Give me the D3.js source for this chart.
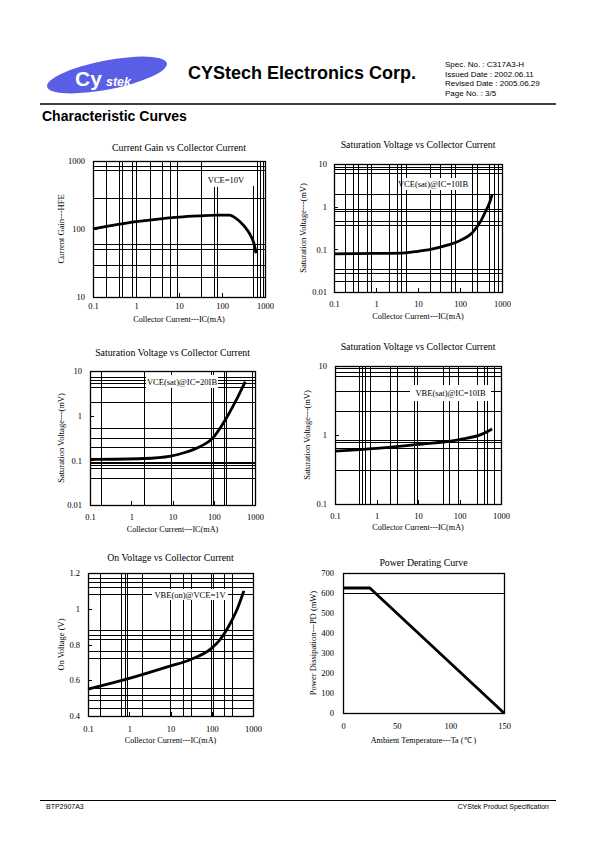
<!DOCTYPE html>
<html><head><meta charset="utf-8">
<script src="https://cdn.jsdelivr.net/npm/d3@7"></script>
<style>body{margin:0;background:#fff}svg{display:block}</style>
</head><body>
<svg id="s" width="595" height="842"></svg>
<script>
// ---------- data ----------
const logXTicks = [0.1, 1, 10, 100, 1000];
// Chart 1: Current gain
const ic1 = [0.1, 1, 10, 30, 80, 150, 200, 330, 450, 550, 620];
const hfe1 = [100, 128, 150, 156, 160, 160, 147, 110, 83, 62, 44];
const yTicks1 = [10, 100, 1000];
const xGrid1 = [0.2, 0.4, 0.48, 0.82, 0.98, 2.1, 4, 6.2, 9, 32, 650, 750, 900];
const xGridShort1 = [65, 78, 518];
const yGrid1 = [850, 740, 290, 60, 51, 30, 20];
// Chart 2: VCE(sat) @ IC=10IB
const ic2 = [0.1, 1, 5, 10, 20, 50, 100, 200, 300, 400, 500, 580];
const vce2 = [0.078, 0.08, 0.083, 0.09, 0.1, 0.125, 0.16, 0.25, 0.43, 0.75, 1.2, 1.9];
const yTicks2 = [0.01, 0.1, 1, 10];
const xGrid2 = [0.18, 0.29, 0.37, 0.61, 0.74, 2, 3.1, 3.9, 5.2, 19, 34, 62, 76, 190, 260, 490, 640, 800];
const yGrid2 = [8.6, 7.6, 6.3, 2, 0.9, 0.8, 0.46, 0.38, 0.035, 0.028, 0.018];
// Chart 3: VCE(sat) @ IC=20IB
const ic3 = [0.1, 2, 9, 20, 50, 90, 190, 330, 580];
const vce3 = [0.105, 0.11, 0.125, 0.15, 0.21, 0.3, 0.8, 2.0, 5.8];
const yTicks3 = [0.01, 0.1, 1, 10];
const xGrid3 = [0.19, 2, 9.2, 85, 95, 180, 195, 830];
const yGrid3 = [7.46, 6.3, 5.3, 4.46, 2.06, 0.52, 0.31, 0.2, 0.093, 0.085, 0.077, 0.066, 0.04];
// Chart 4: VBE(sat) @ IC=10IB
const ic4 = [0.1, 1, 10, 100, 350, 610];
const vbe4 = [0.585, 0.64, 0.73, 0.86, 1.03, 1.22];
const yTicks4 = [0.1, 1, 10];
const xGrid4 = [0.37, 0.44, 0.53, 0.7, 2.13, 3.1, 7.8, 9.5, 41, 57, 90, 263, 380, 460, 660];
const yGrid4 = [9.2, 8.2, 7.15, 4.33, 2.2, 0.855, 0.78, 0.65, 0.31];
// Chart 5: VBE(on) @ VCE=1V
const ic5 = [0.1, 1, 10, 30, 100, 150, 200, 300, 400, 600];
const vbe5 = [0.55, 0.61, 0.68, 0.715, 0.78, 0.82, 0.86, 0.93, 0.99, 1.10];
const yTicks5 = [0.4, 0.6, 0.8, 1, 1.2];
const xGrid5 = [0.2, 0.62, 0.79, 0.9, 2, 9.6, 20, 31, 95, 105, 200, 310];
const yGrid5 = [1.172, 1.148, 1.12, 1.084, 0.88, 0.855, 0.832, 0.765, 0.724, 0.555, 0.518, 0.488, 0.443];
// Chart 6: Power derating
const ta6 = [0, 25, 150];
const pd6 = [625, 625, 0];
const xTicks6 = [0, 50, 100, 150];
const yTicks6 = [0, 100, 200, 300, 400, 500, 600, 700];
const yGrid6 = [600];

// ---------- drawing ----------
const svg = d3.select('#s');
const SERIF = '"Liberation Serif","Times New Roman",serif';
const SANS = '"Liberation Sans",Arial,sans-serif';

function chart(c) {
  const g = svg.append('g');
  const x = (c.xlog ? d3.scaleLog() : d3.scaleLinear()).domain(c.xd).range([c.x0, c.x1]);
  const y = (c.ylog ? d3.scaleLog() : d3.scaleLinear()).domain(c.yd).range([c.y1, c.y0]);
  const ln = (sel) => sel.attr('stroke', '#000').attr('stroke-width', 1).attr('shape-rendering', 'crispEdges');
  g.selectAll('.vg').data(c.xg || []).join('line').call(ln)
    .attr('x1', d => Math.round(x(d)) + 0.5).attr('x2', d => Math.round(x(d)) + 0.5)
    .attr('y1', c.y0).attr('y2', c.y1);
  g.selectAll('.vs').data(c.xgs || []).join('line').call(ln)
    .attr('x1', d => Math.round(x(d)) + 0.5).attr('x2', d => Math.round(x(d)) + 0.5)
    .attr('y1', c.xgsTop ? y(c.xgsTop) : c.y0).attr('y2', c.y1);
  g.selectAll('.hg').data(c.yg || []).join('line').call(ln)
    .attr('y1', d => Math.round(y(d)) + 0.5).attr('y2', d => Math.round(y(d)) + 0.5)
    .attr('x1', c.x0).attr('x2', c.x1);
  if (c.box) {
    g.append('rect').attr('x', c.box[0]).attr('y', c.box[1]).attr('width', c.box[2]).attr('height', c.box[3]).attr('fill', '#fff');
    g.append('text').attr('x', c.box[0] + c.box[2] / 2).attr('y', c.box[1] + c.box[3] / 2 + 3)
      .attr('text-anchor', 'middle').attr('font-family', SERIF).attr('font-size', 8.5).text(c.label);
  }
  g.append('rect').attr('x', c.x0 + 0.5).attr('y', c.y0 + 0.5).attr('width', c.x1 - c.x0).attr('height', c.y1 - c.y0)
    .attr('fill', 'none').attr('stroke', '#000').attr('stroke-width', 1.3);
  const pts = c.xs.map((v, i) => [v, c.ys[i]]);
  g.append('path').datum(pts).attr('fill', 'none').attr('stroke', '#000').attr('stroke-width', 2.8)
    .attr('stroke-linejoin', 'round')
    .attr('d', d3.line().x(d => x(d[0])).y(d => y(d[1])).curve(c.curve || d3.curveMonotoneX));
  // axes: inward major ticks + labels
  const fmt = d => String(d);
  const tk = c.ticks ? -4 : 0;
  const ax = g.append('g').attr('transform', `translate(0,${c.y1})`)
    .call(d3.axisBottom(x).tickValues(c.xt).tickFormat(fmt).tickSize(tk).tickPadding(c.xpad));
  const ay = g.append('g').attr('transform', `translate(${c.x0},0)`)
    .call(d3.axisLeft(y).tickValues(c.yt).tickFormat(fmt).tickSize(tk).tickPadding(c.ypad));
  [ax, ay].forEach(a => {
    a.select('.domain').remove();
    a.selectAll('line').attr('stroke', '#000').attr('shape-rendering', 'crispEdges');
    a.selectAll('text').attr('font-family', SERIF).attr('font-size', 8.5).attr('fill', '#000');
  });
  g.append('text').attr('x', (c.x0 + c.x1) / 2 + (c.tdx || 0)).attr('y', c.ty).attr('text-anchor', 'middle')
    .attr('font-family', SERIF).attr('font-size', 9.8).text(c.title);
  g.append('text').attr('x', (c.x0 + c.x1) / 2).attr('y', c.xty).attr('text-anchor', 'middle')
    .attr('font-family', SERIF).attr('font-size', 8.2).text(c.xtitle);
  g.append('text').attr('transform', `translate(${c.ytx},${(c.y0 + c.y1) / 2}) rotate(-90)`).attr('text-anchor', 'middle')
    .attr('font-family', SERIF).attr('font-size', 8.5).text(c.ytitle);
}

const XT = 'Collector Current---IC(mA)';
chart({x0: 93, x1: 265, y0: 161, y1: 297, xlog: true, ylog: true, xd: [0.1, 1000], yd: [10, 1000], ticks: true,
  xs: ic1, ys: hfe1, xt: logXTicks, yt: yTicks1, xg: xGrid1, xgs: xGridShort1, xgsTop: 430, yg: yGrid1,
  box: [205, 173, 42, 14], label: 'VCE=10V', xpad: 6, ypad: 8,
  title: 'Current Gain vs Collector Current', ty: 151, xtitle: XT, xty: 321.5, ytitle: 'Current Gain---HFE', ytx: 64});
chart({x0: 334, x1: 502, y0: 164, y1: 292, xlog: true, ylog: true, xd: [0.1, 1000], yd: [0.01, 10], ticks: true,
  xs: ic2, ys: vce2, xt: logXTicks, yt: yTicks2, xg: xGrid2, yg: yGrid2,
  box: [402, 178, 62, 12], label: 'VCE(sat)@IC=10IB', xpad: 9, ypad: 7,
  title: 'Saturation Voltage vs Collector Current', ty: 148, xtitle: XT, xty: 319, ytitle: 'Saturation Voltage---(mV)', ytx: 306});
chart({x0: 90, x1: 255, y0: 371, y1: 505, xlog: true, ylog: true, xd: [0.1, 1000], yd: [0.01, 10], ticks: true,
  xs: ic3, ys: vce3, xt: logXTicks, yt: yTicks3, xg: xGrid3, yg: yGrid3,
  box: [146, 375, 72, 13], label: 'VCE(sat)@IC=20IB', xpad: 9, ypad: 8,
  title: 'Saturation Voltage vs Collector Current', ty: 356, xtitle: XT, xty: 532, ytitle: 'Saturation Voltage---(mV)', ytx: 64});
chart({x0: 335, x1: 501, y0: 366, y1: 504, xlog: true, ylog: true, xd: [0.1, 1000], yd: [0.1, 10], ticks: true,
  xs: ic4, ys: vbe4, xt: logXTicks, yt: yTicks4, xg: xGrid4, yg: yGrid4,
  box: [410, 385, 81, 16], label: 'VBE(sat)@IC=10IB', xpad: 9, ypad: 8,
  title: 'Saturation Voltage vs Collector Current', ty: 350, xtitle: XT, xty: 530, ytitle: 'Saturation Voltage---(mV)', ytx: 310});
chart({x0: 88, x1: 253, y0: 573, y1: 716, xlog: true, ylog: false, xd: [0.1, 1000], yd: [0.4, 1.2], ticks: true,
  xs: ic5, ys: vbe5, xt: logXTicks, yt: yTicks5, xg: xGrid5, yg: yGrid5,
  box: [152, 589, 76, 11], label: 'VBE(on)@VCE=1V', xpad: 10, ypad: 8,
  title: 'On Voltage vs Collector Current', ty: 561, xtitle: XT, xty: 743, ytitle: 'On Voltage (V)', ytx: 64});
chart({x0: 343, x1: 504, y0: 573, y1: 713, xlog: false, ylog: false, xd: [0, 150], yd: [0, 700],
  xs: ta6, ys: pd6, xt: xTicks6, yt: yTicks6, yg: yGrid6, curve: d3.curveLinear, xpad: 10, ypad: 9,
  title: 'Power Derating Curve', ty: 566, xtitle: 'Ambient Temperature---Ta (℃ )', xty: 743,
  ytitle: 'Power Dissipation---PD (mW)', ytx: 316});

// ---------- header / footer ----------
const lg = svg.append('g');
lg.append('ellipse').attr('cx', 107).attr('cy', 75).attr('rx', 61).attr('ry', 14.5)
  .attr('transform', 'rotate(-11,107,75)').attr('fill', '#5a5ee6');
lg.append('text').attr('x', 75).attr('y', 86).attr('font-family', SANS).attr('font-weight', 'bold')
  .attr('font-size', 21).attr('fill', '#fff').text('Cy');
lg.append('text').attr('x', 106).attr('y', 86).attr('font-family', SANS).attr('font-weight', 'bold')
  .attr('font-style', 'italic').attr('font-size', 12.5).attr('fill', '#fff').text('stek');
svg.append('text').attr('x', 188).attr('y', 79).attr('font-family', SANS).attr('font-weight', 'bold')
  .attr('font-size', 18).text('CYStech Electronics Corp.');
const spec = ['Spec. No. : C317A3-H', 'Issued Date : 2002.06.11', 'Revised Date : 2005.06.29', 'Page No. : 3/5'];
svg.selectAll('.spec').data(spec).join('text').attr('x', 445).attr('y', (d, i) => 67 + i * 9.5)
  .attr('font-family', SANS).attr('font-size', 8).text(d => d);
svg.append('line').attr('x1', 40).attr('x2', 556).attr('y1', 104).attr('y2', 104).attr('stroke', '#000').attr('stroke-width', 1.3);
svg.append('text').attr('x', 42).attr('y', 121).attr('font-family', SANS).attr('font-weight', 'bold')
  .attr('font-size', 14).text('Characteristic Curves');
svg.append('line').attr('x1', 40).attr('x2', 556).attr('y1', 800.5).attr('y2', 800.5).attr('stroke', '#000').attr('stroke-width', 1);
svg.append('text').attr('x', 46).attr('y', 809).attr('font-family', SANS).attr('font-size', 7).text('BTP2907A3');
svg.append('text').attr('x', 549).attr('y', 809).attr('text-anchor', 'end').attr('font-family', SANS).attr('font-size', 7)
  .text('CYStek Product Specification');
</script>
</body></html>
